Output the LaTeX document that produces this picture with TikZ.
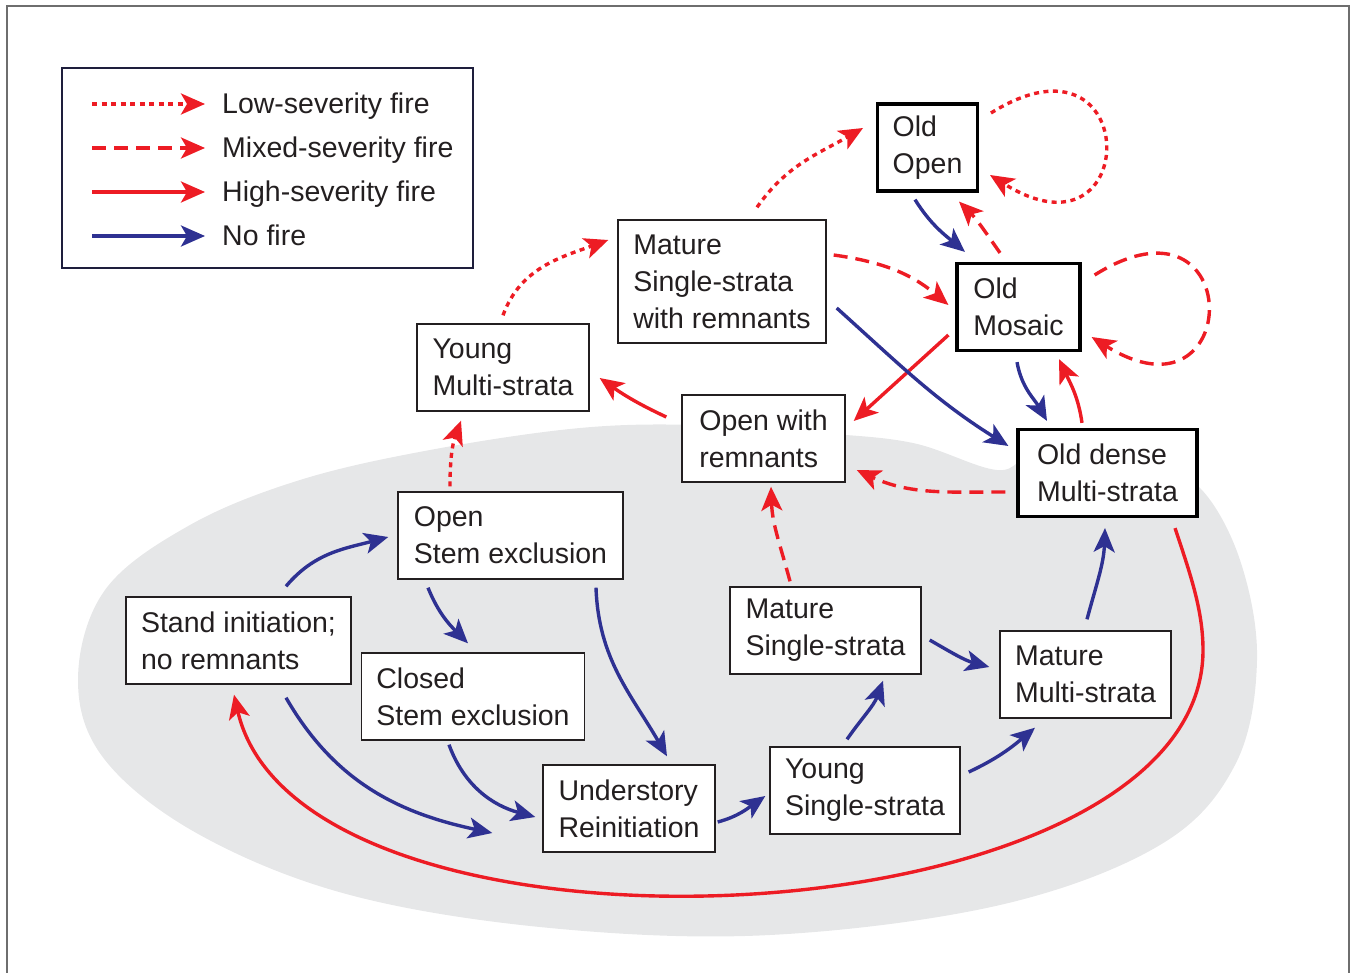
\documentclass[tikz,border=0pt]{standalone}
\usepackage{fontspec}
\setmainfont{Liberation Sans}
\usepackage{tikz}
\usetikzlibrary{arrows.meta}
\definecolor{firered}{RGB}{237,28,36}
\definecolor{noblue}{RGB}{46,49,146}
\definecolor{blobgray}{RGB}{230,231,232}
\definecolor{inkgray}{RGB}{35,31,32}
\definecolor{framegray}{RGB}{110,110,110}
\definecolor{keyline}{RGB}{30,30,60}
\tikzstyle{stage} = [rectangle,
minimum height=87pt,
align=left,
inner xsep=15pt,
draw=inkgray,
line width=1.4pt,
fill=white,
text=inkgray]
\tikzstyle{oldstage} = [stage,
draw=black,
line width=3.2pt]
\tikzstyle{keytext} = [anchor=west,
inner sep=0pt,
text height=20pt,
text depth=1pt,
text=inkgray]
\tikzstyle{arrow} = [line width=3.4pt,-{Stealth[length=24pt,width=21pt,inset=6pt]}]
\tikzstyle{lowsev} = [arrow, firered, dash pattern=on 5pt off 4.5pt]
\tikzstyle{mixsev} = [arrow, firered, dash pattern=on 14pt off 8pt]
\tikzstyle{highsev} = [arrow, firered]
\tikzstyle{nofire} = [arrow, noblue]

\begin{document}
\begin{tikzpicture}[x=1pt, y=1pt, font=\fontsize{28.5}{37}\selectfont]
\useasboundingbox (0,0) rectangle (1352,-973);
% background
\fill [blobgray] plot [smooth cycle, tension=0.6] coordinates {(78,-680) (105,-590) (190,-525) (300,-480) (430,-450) (580,-428) (700,-425) (820,-433) (913,-443) (997,-470) (1040,-455) (1150,-470) (1200,-488) (1240,-560) (1257,-660) (1235,-765) (1160,-845) (1000,-905) (770,-935) (550,-928) (350,-895) (200,-835) (105,-760)};
\draw [framegray, line width=1.6pt] (7,-973) -- (7,-6) -- (1349,-6) -- (1349,-973);

% legend
\draw [keyline, line width=1.3pt] (62,-68) rectangle (473,-268);
\node (lowkey) [keytext] at (222,-104) {Low-severity fire};
\node (mixkey) [keytext] at (222,-148) {Mixed-severity fire};
\node (highkey) [keytext] at (222,-192) {High-severity fire};
\node (nokey) [keytext] at (222,-236) {No fire};
\draw [lowsev] ([xshift=-130pt]lowkey.west) -- ([xshift=-17pt]lowkey.west);
\draw [mixsev] ([xshift=-130pt]mixkey.west) -- ([xshift=-17pt]mixkey.west);
\draw [highsev] ([xshift=-130pt]highkey.west) -- ([xshift=-17pt]highkey.west);
\draw [nofire] ([xshift=-130pt]nokey.west) -- ([xshift=-17pt]nokey.west);

% stages
\node (oldopen) [oldstage, minimum width=97pt] at (927.5,-147.5) {Old\\Open};
\node (matrem) [stage, minimum width=208pt, minimum height=123pt] at (722,-281.5) {Mature\\Single-strata\\with remnants};
\node (oldmosaic) [oldstage, minimum width=123pt] at (1018.5,-307) {Old\\Mosaic};
\node (youngmulti) [stage, minimum width=172pt] at (503,-367.5) {Young\\Multi-strata};
\node (openrem) [stage, minimum width=163pt] at (763.5,-438.5) {Open with\\remnants};
\node (olddense) [oldstage, minimum width=179pt] at (1107.5,-473) {Old dense\\Multi-strata};
\node (openstem) [stage, minimum width=225pt] at (510.5,-535.5) {Open\\Stem exclusion};
\node (standinit) [stage, minimum width=221pt] at (238.5,-640.5) {Stand initiation;\\no remnants};
\node (closedstem) [stage, minimum width=220pt] at (473,-696.5) {Closed\\Stem exclusion};
\node (matsingle) [stage, minimum width=191pt] at (825.5,-630.5) {Mature\\Single-strata};
\node (matmulti) [stage, minimum width=169pt] at (1085.5,-674.5) {Mature\\Multi-strata};
\node (understory) [stage, minimum width=172pt] at (629,-808.5) {Understory\\Reinitiation};
\node (youngsingle) [stage, minimum width=190pt] at (865,-790.5) {Young\\Single-strata};

% low-severity fire
\draw [lowsev] ([shift={(-60.5,5)}]openstem.north) to [out=90, in=-110] ([shift={(-42,-9)}]youngmulti.south);
\draw [lowsev] ([shift={(0,8)}]youngmulti.north) to [out=70, in=200] ([shift={(-9,41.5)}]matrem.west);
\draw [lowsev] ([shift={(35,12)}]matrem.north) to [out=55, in=210] ([shift={(-13,19.5)}]oldopen.west);
\draw [lowsev] ([shift={(12,34.5)}]oldopen.east) to [out=32, in=-32, distance=180pt] ([shift={(11,-27.5)}]oldopen.east);

% mixed-severity fire
\draw [mixsev] ([shift={(-18.5,9)}]oldmosaic.north) to [out=125, in=-45] ([shift={(31.5,-9)}]oldopen.south);
\draw [mixsev] ([shift={(7,26.5)}]matrem.east) to [out=-8, in=140] ([shift={(-7,2)}]oldmosaic.west);
\draw [mixsev] ([shift={(13,32)}]oldmosaic.east) to [out=32, in=-32, distance=180pt] ([shift={(10,-30)}]oldmosaic.east);
\draw [mixsev] ([shift={(-11,-19)}]olddense.west) to [out=180, in=-25] ([shift={(11,-31.5)}]openrem.east);
\draw [mixsev] ([shift={(-35.5,5)}]matsingle.north) to [out=105, in=-88] ([shift={(7.5,-4)}]openrem.south);

% high-severity fire
\draw [highsev] ([shift={(-7,-28)}]oldmosaic.west) -- ([shift={(8,17.5)}]openrem.east);
\draw [highsev] ([shift={(-15,21.5)}]openrem.west) to [out=155, in=-35] ([shift={(10,-10.5)}]youngmulti.east);
\draw [highsev] ([shift={(-25.5,5)}]olddense.north) to [out=98, in=-65] ([shift={(40.5,-7)}]oldmosaic.south);
\coordinate (redturn) at (1203,-650);
\draw [highsev] ([shift={(67.5,-10)}]olddense.south) .. controls +(15,-45) and +(0,40) .. (redturn) .. controls +(0,-295) and +(67,-292) .. ([shift={(-4.5,-10)}]standinit.south);

% no fire
\draw [nofire] ([shift={(-12.5,-7)}]oldopen.south) to [out=-58, in=140] ([shift={(-53.5,10)}]oldmosaic.north);
\draw [nofire] ([shift={(10,-26.5)}]matrem.east) to [out=-42, in=148] ([shift={(-8,27)}]olddense.west);
\draw [nofire] ([shift={(-1.5,-10)}]oldmosaic.south) to [out=-80, in=120] ([shift={(-60.5,7)}]olddense.north);
\draw [nofire] ([shift={(1.5,11)}]matmulti.north) to [out=75, in=-92] ([shift={(-2.5,-10)}]olddense.south);
\draw [nofire] ([shift={(8,-9.5)}]matsingle.east) to [out=-30, in=165] ([shift={(-10,7.5)}]matmulti.west);
\draw [nofire] ([shift={(-18,7)}]youngsingle.north) to [out=55, in=-110] ([shift={(57.5,-6)}]matsingle.south);
\draw [nofire] ([shift={(8,18.5)}]youngsingle.east) to [out=25, in=-140] ([shift={(-50.5,-9)}]matmulti.south);
\draw [nofire] ([shift={(2,-13.5)}]understory.east) to [out=15, in=-145] ([shift={(-4,-5.5)}]youngsingle.west);
\draw [nofire] ([shift={(85.5,-8)}]openstem.south) to [out=-88, in=120] ([shift={(38,8)}]understory.north);
\draw [nofire] ([shift={(-82.5,-8)}]openstem.south) to [out=-68, in=135] ([shift={(-5,9)}]closedstem.north);
\draw [nofire] ([shift={(47.5,10)}]standinit.north) to [out=50, in=-165] ([shift={(-9,-1.5)}]openstem.west);
\draw [nofire] ([shift={(47.5,-13)}]standinit.south) to [out=-60, in=168] ([shift={(-50,-24.5)}]understory.west);
\draw [nofire] ([shift={(-24,-4)}]closedstem.south) to [out=-70, in=165] ([shift={(-7,-8.5)}]understory.west);
\end{tikzpicture}
\end{document}
